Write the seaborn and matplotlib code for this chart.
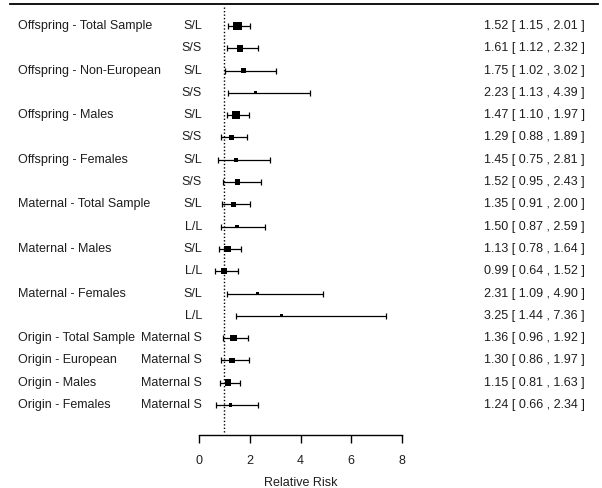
import numpy as np
import pandas as pd
import matplotlib
matplotlib.use('Agg')
import matplotlib.pyplot as plt
import matplotlib.transforms as mtransforms
import seaborn as sns

# forest plot data
groups = ["Offspring - Total Sample", "", "Offspring - Non-European", "",
          "Offspring - Males", "", "Offspring - Females", "",
          "Maternal - Total Sample", "", "Maternal - Males", "",
          "Maternal - Females", "", "Origin - Total Sample", "Origin - European",
          "Origin - Males", "Origin - Females"]
genotypes = ["S/L", "S/S", "S/L", "S/S", "S/L", "S/S", "S/L", "S/S",
             "S/L", "L/L", "S/L", "L/L", "S/L", "L/L",
             "Maternal S", "Maternal S", "Maternal S", "Maternal S"]
rr = [1.52, 1.61, 1.75, 2.23, 1.47, 1.29, 1.45, 1.52, 1.35, 1.50, 1.13, 0.99,
      2.31, 3.25, 1.36, 1.30, 1.15, 1.24]
ci_lo = [1.15, 1.12, 1.02, 1.13, 1.10, 0.88, 0.75, 0.95, 0.91, 0.87, 0.78, 0.64,
         1.09, 1.44, 0.96, 0.86, 0.81, 0.66]
ci_hi = [2.01, 2.32, 3.02, 4.39, 1.97, 1.89, 2.81, 2.43, 2.00, 2.59, 1.64, 1.52,
         4.90, 7.36, 1.92, 1.97, 1.63, 2.34]
# relative weight of each estimate (box area)
weight = [64, 36, 16, 4, 64, 25, 9, 25, 25, 9, 36, 25, 4, 4, 36, 25, 36, 9]
xticks = [0, 2, 4, 6, 8]

df = pd.DataFrame({'group': groups, 'geno': genotypes, 'rr': rr,
                   'lo': ci_lo, 'hi': ci_hi, 'w': weight})
df['row'] = np.arange(len(df))

plt.rcParams['font.family'] = ['Liberation Sans', 'DejaVu Sans']
txt_col = '#1e1e1e'
fs = 9

W, H = 602, 488
fig = plt.figure(figsize=(W / 100, H / 100), dpi=100)
# plot region in pixels: x 0..8 -> 199..402, y top 4 .. axis 435
ax = fig.add_axes([199 / W, (H - 435) / H, 203 / W, 431 / H])

ax.errorbar(df['rr'], df['row'], xerr=[df['rr'] - df['lo'], df['hi'] - df['rr']],
            fmt='none', ecolor='black', elinewidth=0.9, capsize=2.3, capthick=0.9)
sns.scatterplot(data=df, x='rr', y='row', size='w', sizes=(4.5, 36), size_norm=(4, 64),
                marker='s', color='black', linewidth=0, legend=False, ax=ax, zorder=3)

ax.axvline(1, ymin=0.007, ymax=0.995, color='black', ls=(0, (1, 1.5)), lw=1)

ax.set_xlim(0, 8)
n = len(df)
ax.set_ylim(n - 1 + 30 / 22.29, -22 / 22.29)
ax.set_xticks(xticks)
ax.set_yticks([])
for s in ['top', 'right', 'left']:
    ax.spines[s].set_visible(False)
ax.spines['bottom'].set_bounds(0, 8)
ax.spines['bottom'].set_linewidth(1)
ax.tick_params(axis='x', direction='out', length=5.5, width=1, pad=9,
               labelsize=fs, labelcolor=txt_col)
ax.set_xlabel("Relative Risk", fontsize=fs, color=txt_col, labelpad=7)
ax.set_ylabel("")

# text columns
trans = mtransforms.blended_transform_factory(fig.transFigure, ax.transData)
for _, r in df.iterrows():
    if r['group']:
        ax.text(18 / W, r['row'], r['group'], transform=trans, ha='left', va='center',
                fontsize=fs, color=txt_col, clip_on=False)
    ax.text(202 / W, r['row'], r['geno'], transform=trans, ha='right', va='center',
            fontsize=fs, color=txt_col, clip_on=False)
    ax.text(585 / W, r['row'], f"{r['rr']:.2f} [ {r['lo']:.2f} , {r['hi']:.2f} ]",
            transform=trans, ha='right', va='center', fontsize=fs, color=txt_col,
            clip_on=False)

# top rule
fig.add_artist(plt.Line2D([10 / W, 598 / W], [(H - 4) / H, (H - 4) / H],
                          transform=fig.transFigure, color='black', lw=1.3))

fig.savefig('out.png', dpi=100)
